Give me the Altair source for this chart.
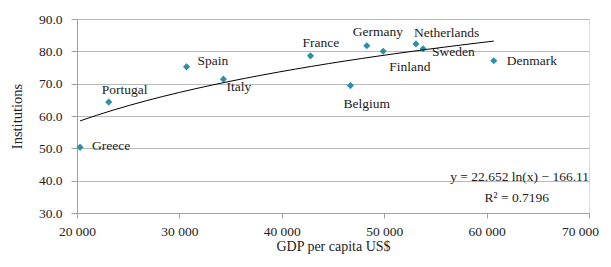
import altair as alt
import pandas as pd

countries = ["Greece", "Portugal", "Spain", "Italy", "France", "Germany",
             "Belgium", "Finland", "Netherlands", "Sweden", "Denmark"]
gdp = [20300, 23100, 30700, 34300, 42800, 48300, 46700, 49900, 53100, 53800, 60700]
inst = [50.3, 64.3, 75.2, 71.4, 78.6, 81.7, 69.4, 80.0, 82.3, 80.8, 77.1]
# label offsets (pixels, left edge of text) relative to the point
dx = [12, -7, 11, 3, -8, -14, -7, 6, -2, 9, 13]
dy = [-1, -12, -6, 8, -13, -14, 18, 16, -11, 3, 0]

df = pd.DataFrame({"country": countries, "gdp": gdp, "inst": inst})

FONT = "Liberation Serif"
xscale = alt.Scale(domain=[20000, 70000], nice=False, zero=False)
yscale = alt.Scale(domain=[30, 90], nice=False, zero=False)

xaxis = alt.Axis(title="GDP per capita US$", values=[20000, 30000, 40000, 50000, 60000, 70000],
                 labelExpr="replace(format(datum.value, ',d'), ',', ' ')", labelFlush=False,
                 labelOffset={"condition": {"test": "datum.value >= 70000", "value": -9}, "value": 0},
                 grid=False, domainColor="#a0a0a0", tickColor="#a0a0a0", tickSize=5,
                 labelFont=FONT, labelFontSize=13.5, labelColor="#222",
                 titleFont=FONT, titleFontSize=14, titleFontWeight="normal", titleColor="#222",
                 labelPadding=6, titlePadding=2)
yaxis = alt.Axis(title="Institutions", values=[30, 40, 50, 60, 70, 80, 90], format=".1f",
                 grid=True, gridColor="#b8b8b8", domainColor="#a0a0a0", tickColor="#a0a0a0",
                 tickSize=6, labelFont=FONT, labelFontSize=13.5, labelColor="#222", labelFlush=False,
                 titleFont=FONT, titleFontSize=14.5, titleFontWeight="normal", titleColor="#222",
                 labelPadding=9, titlePadding=14)

X = alt.X("gdp:Q", scale=xscale, axis=xaxis)
Y = alt.Y("inst:Q", scale=yscale, axis=yaxis)

base = alt.Chart(df)

points = base.mark_point(shape="diamond", filled=True, size=50, color="#2A8FA8", opacity=1).encode(x=X, y=Y)

trend = base.transform_regression("gdp", "inst", method="log").mark_line(
    color="black", strokeWidth=1).encode(x=X, y=Y)

labels = [
    base.transform_filter(alt.datum.country == c).mark_text(
        font=FONT, fontSize=13.5, color="#222", dx=ox, dy=oy, align="left", baseline="middle"
    ).encode(x=X, y=Y, text="country:N")
    for c, ox, oy in zip(countries, dx, dy)
]

eq_df = pd.DataFrame({"t": ["y = 22.652 ln(x) − 166.11", "R² = 0.7196"],
                      "gdp": [70000, 66100], "inst": [41.2, 34.7]})
eq = alt.Chart(eq_df).mark_text(font=FONT, fontSize=13.5, color="#222", align="right",
                                baseline="middle").encode(x=X, y=Y, text="t:N")

chart = alt.layer(points, trend, *labels, eq).properties(
    width=512, height=194,
    autosize=alt.AutoSizeParams(type="none"),
    padding={"left": 69, "top": 11, "right": 14, "bottom": 43},
).configure_view(stroke=None).configure(background="white")

chart.save("out.html", embed_options={"renderer": "svg", "actions": False})
